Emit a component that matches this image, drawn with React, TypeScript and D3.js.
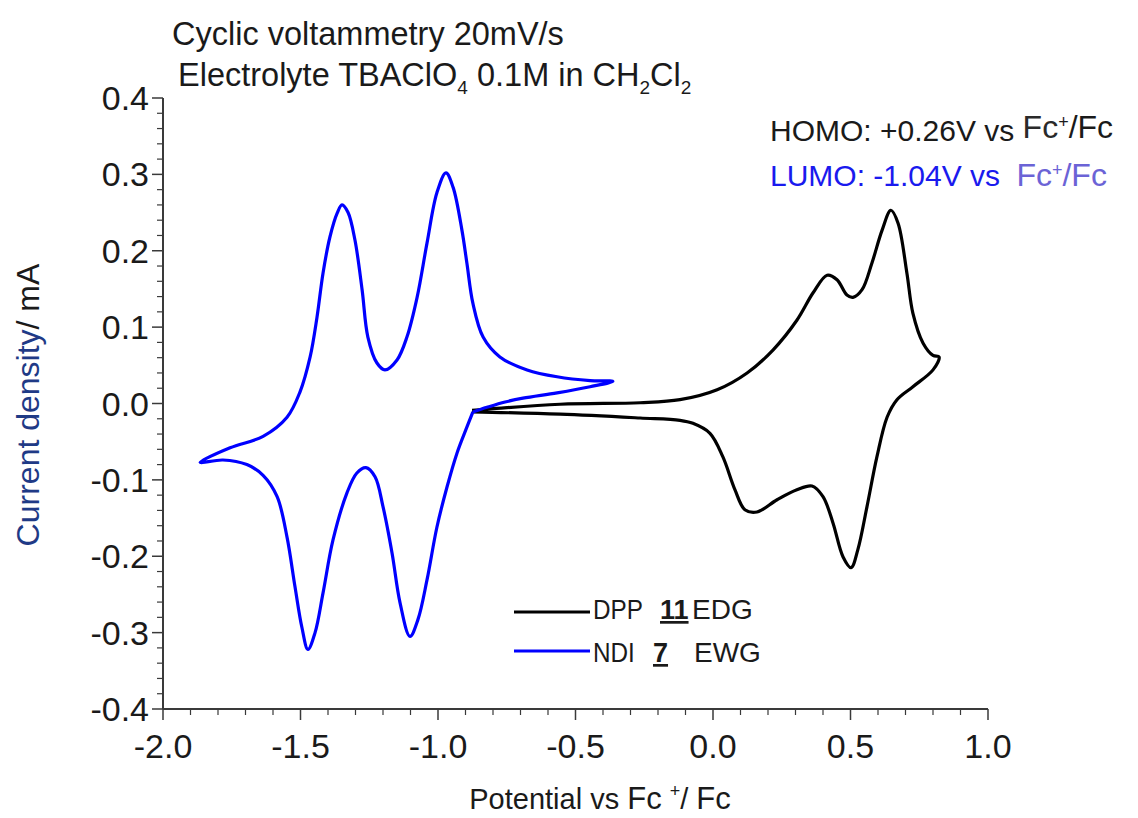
import React from "react";
import * as d3 from "d3";

// NDI 7 (blue) cyclic voltammogram: potential (V vs Fc+/Fc), current (mA)
const ndiPotential = [
  -0.873, -0.822, -0.756, -0.691, -0.567, -0.447, -0.364,
  -0.447, -0.567, -0.676, -0.775, -0.836, -0.873, -0.895, -0.913, -0.945, -0.971,
  -1.004, -1.04, -1.076, -1.113, -1.149, -1.193, -1.222, -1.255, -1.276, -1.302,
  -1.327, -1.349, -1.367, -1.393, -1.418, -1.44, -1.465, -1.502, -1.549, -1.636,
  -1.756, -1.865,
  -1.782, -1.695, -1.636, -1.585, -1.549, -1.52, -1.495, -1.473, -1.447, -1.418,
  -1.382, -1.331, -1.295, -1.262, -1.229, -1.2, -1.167, -1.138, -1.102, -1.073,
  -1.04, -1.004, -0.967, -0.931, -0.895, -0.873,
];
const ndiCurrent = [
  -0.011, -0.005, 0.002, 0.007, 0.014, 0.022, 0.029,
  0.03, 0.035, 0.044, 0.061, 0.087, 0.131, 0.184, 0.227, 0.283, 0.302,
  0.276, 0.21, 0.139, 0.087, 0.057, 0.044, 0.053, 0.087, 0.149, 0.214,
  0.25, 0.26, 0.249, 0.218, 0.171, 0.113, 0.061, 0.015, -0.018, -0.043,
  -0.058, -0.077,
  -0.074, -0.08, -0.094, -0.122, -0.175, -0.24, -0.293, -0.322, -0.3, -0.248,
  -0.179, -0.117, -0.091, -0.084, -0.096, -0.135, -0.196, -0.261, -0.305, -0.283,
  -0.231, -0.162, -0.109, -0.065, -0.031, -0.011,
];

// DPP 11 (black) cyclic voltammogram
const dppPotential = [
  -0.876, -0.556, -0.265, -0.12, 0.015, 0.124, 0.218, 0.305, 0.364, 0.415, 0.451,
  0.487, 0.509, 0.542, 0.578, 0.615, 0.647, 0.673, 0.705, 0.727, 0.764, 0.8, 0.822,
  0.8, 0.727, 0.669, 0.633, 0.596, 0.56, 0.527, 0.502, 0.473, 0.436, 0.4, 0.36,
  0.305, 0.233, 0.16, 0.116, 0.08, 0.036, -0.011, -0.073, -0.12, -0.265, -0.556, -0.876,
];
const dppCurrent = [
  -0.009, -0.001, 0.001, 0.005, 0.018, 0.04, 0.07, 0.109, 0.145, 0.168, 0.162,
  0.142, 0.139, 0.149, 0.184, 0.227, 0.253, 0.236, 0.171, 0.118, 0.079, 0.063, 0.061,
  0.044, 0.022, 0.005, -0.018, -0.07, -0.135, -0.191, -0.215, -0.201, -0.156, -0.122, -0.108,
  -0.113, -0.126, -0.142, -0.139, -0.113, -0.07, -0.039, -0.026, -0.022, -0.019, -0.014, -0.011,
];

const xMajorTicks = [-2.0, -1.5, -1.0, -0.5, 0.0, 0.5, 1.0];
const yMajorTicks = [-0.4, -0.3, -0.2, -0.1, 0.0, 0.1, 0.2, 0.3, 0.4];

const FONT = "'Liberation Sans', Arial, sans-serif";

export default function App() {
  const W = 1138;
  const H = 818;
  const x = d3.scaleLinear().domain([-2, 1]).range([163, 988]);
  const y = d3.scaleLinear().domain([-0.4, 0.4]).range([709, 98]);

  const line = d3
    .line<[number, number]>()
    .x((d) => x(d[0]))
    .y((d) => y(d[1]))
    .curve(d3.curveCatmullRom.alpha(0.5));

  const ndiPts: [number, number][] = ndiPotential.map((v, i) => [v, ndiCurrent[i]]);
  const dppPts: [number, number][] = dppPotential.map((v, i) => [v, dppCurrent[i]]);

  const xMinor = d3.range(-2, 1.0001, 0.1).filter((v) => Math.abs(Math.round(v * 2) - v * 2) > 1e-6);
  const yMinor = d3.range(-0.4, 0.4001, 0.02).filter((v) => Math.abs(Math.round(v * 10) - v * 10) > 1e-6);

  const axisColor = "#3a3a3a";
  const txt = "#1a1a1a";

  return (
    <svg
      width={W}
      height={H}
      style={{ position: "absolute", left: 0, top: 0, background: "#fff" }}
      fontFamily={FONT}
    >
      <rect width={W} height={H} fill="#fff" />
      {/* Title */}
      <text x={172} y={45} fontSize={32.5} fill={txt}>Cyclic voltammetry 20mV/s</text>
      <text x={178} y={86} fontSize={32.5} fill={txt}>
        Electrolyte TBAClO<tspan fontSize={19} dy={8}>4</tspan>
        <tspan dy={-8}> 0.1M in CH</tspan>
        <tspan fontSize={19} dy={8}>2</tspan>
        <tspan dy={-8}>Cl</tspan>
        <tspan fontSize={19} dy={8}>2</tspan>
      </text>

      {/* HOMO / LUMO annotations */}
      <text x={770} y={141} fontSize={30} fill={txt}>
        HOMO: +0.26V vs <tspan fontSize={32} fill="#2a2a2a" dy={-3}>Fc</tspan>
        <tspan fontSize={18} dy={-10}>+</tspan>
        <tspan fontSize={32} dy={10}>/Fc</tspan>
      </text>
      <text x={770} y={186} fontSize={30} fill="#1a1aee">
        LUMO: -1.04V vs <tspan fontSize={32} fill="#6b63d6" dx={8}>Fc</tspan>
        <tspan fontSize={18} fill="#6b63d6" dy={-10}>+</tspan>
        <tspan fontSize={32} fill="#6b63d6" dy={10}>/Fc</tspan>
      </text>

      {/* Axes */}
      <line x1={x(-2)} x2={x(1)} y1={y(-0.4)} y2={y(-0.4)} stroke={axisColor} strokeWidth={2} />
      <line x1={x(-2)} x2={x(-2)} y1={y(-0.4)} y2={y(0.4)} stroke={axisColor} strokeWidth={2} />
      {xMajorTicks.map((t) => (
        <g key={"xt" + t}>
          <line x1={x(t)} x2={x(t)} y1={y(-0.4)} y2={y(-0.4) + 11} stroke={axisColor} strokeWidth={1.5} />
          <text x={x(t)} y={y(-0.4) + 49} fontSize={34} textAnchor="middle" fill={txt}>
            {t.toFixed(1)}
          </text>
        </g>
      ))}
      {xMinor.map((t, i) => (
        <line key={"xm" + i} x1={x(t)} x2={x(t)} y1={y(-0.4)} y2={y(-0.4) + 6} stroke={axisColor} strokeWidth={1.2} />
      ))}
      {yMajorTicks.map((t) => (
        <g key={"yt" + t}>
          <line x1={x(-2) - 11} x2={x(-2)} y1={y(t)} y2={y(t)} stroke={axisColor} strokeWidth={1.5} />
          <text x={x(-2) - 14} y={y(t) + 12} fontSize={34} textAnchor="end" fill={txt}>
            {t.toFixed(1)}
          </text>
        </g>
      ))}
      {yMinor.map((t, i) => (
        <line key={"ym" + i} x1={x(-2) - 6} x2={x(-2)} y1={y(t)} y2={y(t)} stroke={axisColor} strokeWidth={1.2} />
      ))}

      {/* Axis titles */}
      <text x={600} y={809} fontSize={29} textAnchor="middle" fill={txt}>
        Potential vs <tspan fontSize={31}>Fc</tspan> <tspan fontSize={18} dy={-12}>+</tspan>
        <tspan dy={12}>/ </tspan>
        <tspan fontSize={31}>Fc</tspan>
      </text>
      <text transform="translate(39,405) rotate(-90)" fontSize={32} textAnchor="middle">
        <tspan fill="#1f3a86">Current density</tspan>
        <tspan fill={txt}>/ mA</tspan>
      </text>

      {/* Curves */}
      <path d={line(dppPts) ?? ""} fill="none" stroke="#000" strokeWidth={3.2} strokeLinejoin="round" />
      <path d={line(ndiPts) ?? ""} fill="none" stroke="#0000ff" strokeWidth={3.2} strokeLinejoin="round" />

      {/* Legend */}
      <line x1={514} x2={590} y1={612} y2={612} stroke="#000" strokeWidth={3} />
      <text x={593} y={619} fontSize={27} fill={txt} transform="translate(593,0) scale(0.9,1) translate(-593,0)">DPP</text>
      <text x={660} y={619} fontSize={27} fill={txt} fontWeight="bold" textDecoration="underline">11</text>
      <text x={692} y={619} fontSize={28} fill={txt}>EDG</text>
      <line x1={514} x2={590} y1={651} y2={651} stroke="#0000ff" strokeWidth={3} />
      <text x={593} y={662} fontSize={27} fill={txt} transform="translate(593,0) scale(0.9,1) translate(-593,0)">NDI</text>
      <text x={653} y={662} fontSize={27} fill={txt} fontWeight="bold" textDecoration="underline">7</text>
      <text x={694} y={662} fontSize={28} fill={txt}>EWG</text>
    </svg>
  );
}
